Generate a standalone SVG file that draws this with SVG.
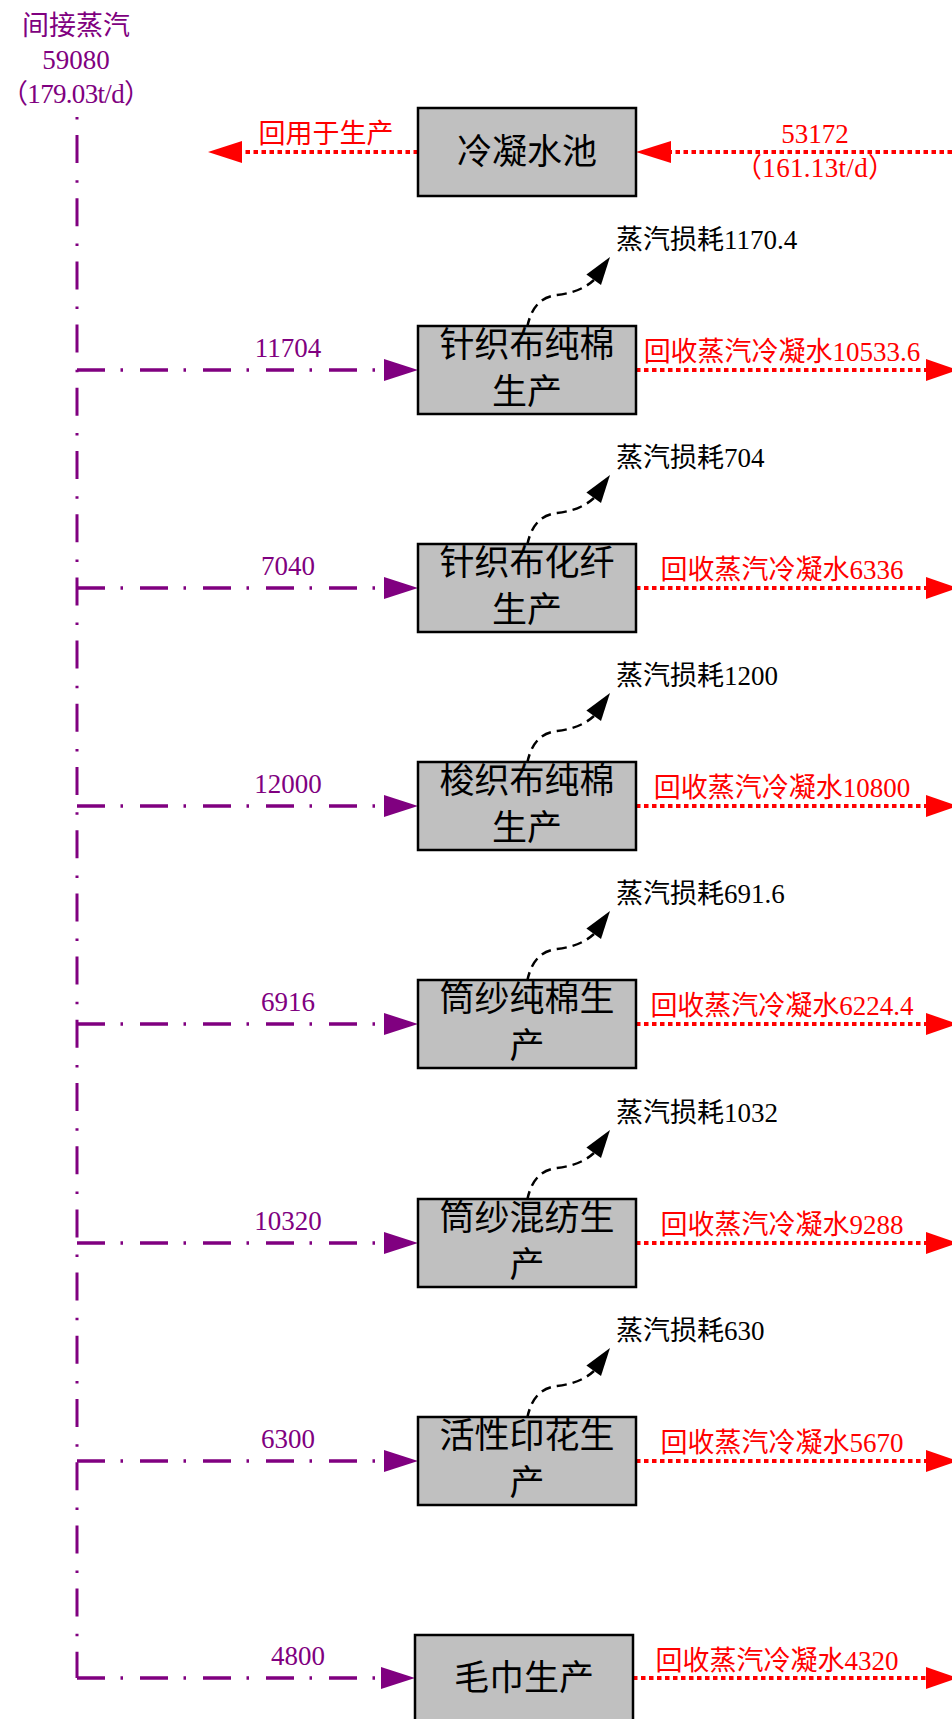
<svg xmlns="http://www.w3.org/2000/svg" width="952" height="1719" viewBox="0 0 952 1719">
<style>
text{font-family:"Liberation Serif","Noto Sans CJK SC",serif;font-size:27px}
.pu{fill:#800080}
.rd{fill:#FF0000}
.bk{fill:#000000}
.mid{text-anchor:middle}
.box{fill:#C0C0C0;stroke:#000;stroke-width:2.5}
.bt{font-size:35px;text-anchor:middle;fill:#000}
.vline{fill:none;stroke:#800080;stroke-width:3;stroke-dasharray:2.5 15.5 28 17.2}
.hline{fill:none;stroke:#800080;stroke-width:3.5;stroke-dasharray:28 15.5 2.5 17}
.rline{fill:none;stroke:#FF0000;stroke-width:4;stroke-dasharray:4.5 3.5}
.loss{fill:none;stroke:#000;stroke-width:2.5;stroke-dasharray:10 6}
.pah{fill:#800080}
.rah{fill:#FF0000}
.bah{fill:#000}
</style>

<g id="connectors">
  <path class="vline" d="M77,117 V1678"/>
  <path class="hline" d="M77,370 H384"/><polygon class="pah" points="384,359 418,370 384,381"/>
  <path class="hline" d="M77,588 H384"/><polygon class="pah" points="384,577 418,588 384,599"/>
  <path class="hline" d="M77,806 H384"/><polygon class="pah" points="384,795 418,806 384,817"/>
  <path class="hline" d="M77,1024 H384"/><polygon class="pah" points="384,1013 418,1024 384,1035"/>
  <path class="hline" d="M77,1243 H384"/><polygon class="pah" points="384,1232 418,1243 384,1254"/>
  <path class="hline" d="M77,1461 H384"/><polygon class="pah" points="384,1450 418,1461 384,1472"/>
  <path class="hline" d="M77,1678 H381"/><polygon class="pah" points="381,1667 415,1678 381,1689"/>
  <path class="rline" d="M952,152 H671"/><polygon class="rah" points="671,141 636,152 671,163"/>
  <path class="rline" d="M418,152 H242"/><polygon class="rah" points="242,141 208,152 242,163"/>
  <path class="rline" d="M636,370 H926"/><polygon class="rah" points="926,359 958,370 926,381"/>
  <path class="rline" d="M636,588 H926"/><polygon class="rah" points="926,577 958,588 926,599"/>
  <path class="rline" d="M636,806 H926"/><polygon class="rah" points="926,795 958,806 926,817"/>
  <path class="rline" d="M636,1024 H926"/><polygon class="rah" points="926,1013 958,1024 926,1035"/>
  <path class="rline" d="M636,1243 H926"/><polygon class="rah" points="926,1232 958,1243 926,1254"/>
  <path class="rline" d="M636,1461 H926"/><polygon class="rah" points="926,1450 958,1461 926,1472"/>
  <path class="rline" d="M633,1678 H926"/><polygon class="rah" points="926,1667 958,1678 926,1689"/>
  <g transform="translate(0,370)"><path class="loss" d="M527,-42 C531,-62 540,-73 557,-75 S585,-82 594,-90"/><polygon class="bah" points="610,-113 586.4,-95.6 601,-85"/></g>
  <g transform="translate(0,588)"><path class="loss" d="M527,-42 C531,-62 540,-73 557,-75 S585,-82 594,-90"/><polygon class="bah" points="610,-113 586.4,-95.6 601,-85"/></g>
  <g transform="translate(0,806)"><path class="loss" d="M527,-42 C531,-62 540,-73 557,-75 S585,-82 594,-90"/><polygon class="bah" points="610,-113 586.4,-95.6 601,-85"/></g>
  <g transform="translate(0,1024)"><path class="loss" d="M527,-42 C531,-62 540,-73 557,-75 S585,-82 594,-90"/><polygon class="bah" points="610,-113 586.4,-95.6 601,-85"/></g>
  <g transform="translate(0,1243)"><path class="loss" d="M527,-42 C531,-62 540,-73 557,-75 S585,-82 594,-90"/><polygon class="bah" points="610,-113 586.4,-95.6 601,-85"/></g>
  <g transform="translate(0,1461)"><path class="loss" d="M527,-42 C531,-62 540,-73 557,-75 S585,-82 594,-90"/><polygon class="bah" points="610,-113 586.4,-95.6 601,-85"/></g>
</g>

<g id="labels">
  <text class="pu mid" x="76" y="35">间接蒸汽</text>
  <text class="pu mid" x="76" y="69">59080</text>
  <text class="pu mid" x="76" y="103" textLength="150" lengthAdjust="spacing">（179.03t/d）</text>
  <text class="rd mid" x="326" y="143">回用于生产</text>
  <text class="rd mid" x="815" y="143">53172</text>
  <text class="rd mid" x="815" y="177" textLength="160" lengthAdjust="spacing">（161.13t/d）</text>

  <text class="pu mid" x="288" y="357">11704</text>
  <text class="pu mid" x="288" y="575">7040</text>
  <text class="pu mid" x="288" y="793">12000</text>
  <text class="pu mid" x="288" y="1011">6916</text>
  <text class="pu mid" x="288" y="1230">10320</text>
  <text class="pu mid" x="288" y="1448">6300</text>
  <text class="pu mid" x="298" y="1665">4800</text>

  <text class="bk" x="616" y="249">蒸汽损耗1170.4</text>
  <text class="bk" x="616" y="467">蒸汽损耗704</text>
  <text class="bk" x="616" y="685">蒸汽损耗1200</text>
  <text class="bk" x="616" y="903">蒸汽损耗691.6</text>
  <text class="bk" x="616" y="1122">蒸汽损耗1032</text>
  <text class="bk" x="616" y="1340">蒸汽损耗630</text>

  <text class="rd mid" x="782" y="361">回收蒸汽冷凝水10533.6</text>
  <text class="rd mid" x="782" y="579">回收蒸汽冷凝水6336</text>
  <text class="rd mid" x="782" y="797">回收蒸汽冷凝水10800</text>
  <text class="rd mid" x="782" y="1015">回收蒸汽冷凝水6224.4</text>
  <text class="rd mid" x="782" y="1234">回收蒸汽冷凝水9288</text>
  <text class="rd mid" x="782" y="1452">回收蒸汽冷凝水5670</text>
  <text class="rd mid" x="777" y="1670">回收蒸汽冷凝水4320</text>
</g>

<g id="node-pool"><rect class="box" x="418" y="108" width="218" height="88"/><text class="bt" x="527" y="164">冷凝水池</text></g>
<g id="node-1"><rect class="box" x="418" y="326" width="218" height="88"/><text class="bt" x="527" y="357">针织布纯棉</text><text class="bt" x="527" y="404">生产</text></g>
<g id="node-2"><rect class="box" x="418" y="544" width="218" height="88"/><text class="bt" x="527" y="575">针织布化纤</text><text class="bt" x="527" y="622">生产</text></g>
<g id="node-3"><rect class="box" x="418" y="762" width="218" height="88"/><text class="bt" x="527" y="793">梭织布纯棉</text><text class="bt" x="527" y="840">生产</text></g>
<g id="node-4"><rect class="box" x="418" y="980" width="218" height="88"/><text class="bt" x="527" y="1011">筒纱纯棉生</text><text class="bt" x="527" y="1058">产</text></g>
<g id="node-5"><rect class="box" x="418" y="1199" width="218" height="88"/><text class="bt" x="527" y="1230">筒纱混纺生</text><text class="bt" x="527" y="1277">产</text></g>
<g id="node-6"><rect class="box" x="418" y="1417" width="218" height="88"/><text class="bt" x="527" y="1448">活性印花生</text><text class="bt" x="527" y="1495">产</text></g>
<g id="node-7"><rect class="box" x="415" y="1635" width="218" height="100"/><text class="bt" x="524" y="1690">毛巾生产</text></g>
</svg>
